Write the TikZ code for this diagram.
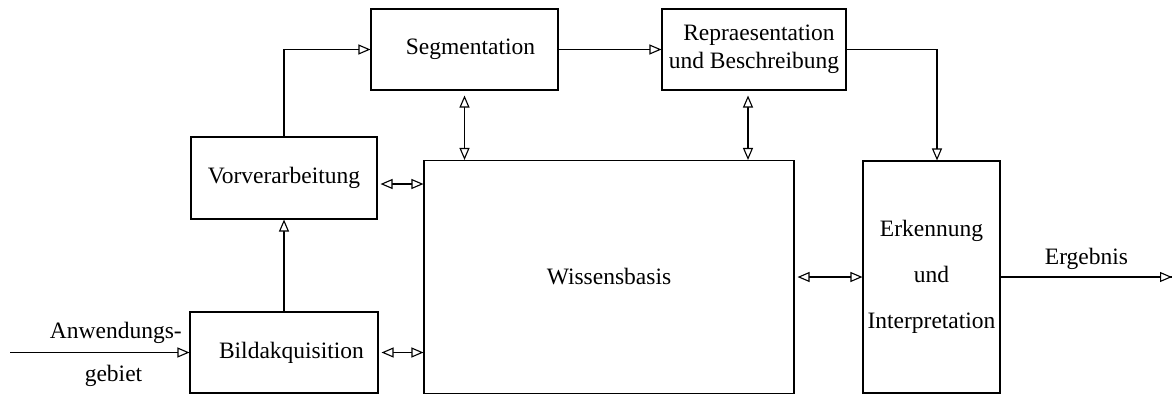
\documentclass[tikz,border=0pt]{standalone}
\usepackage{fontspec}
\setmainfont{Liberation Serif}
\usetikzlibrary{arrows.meta}
\begin{document}
\begin{tikzpicture}[x=1pt,y=-1pt,
  box/.style={draw, line width=1.1pt, rectangle, inner sep=0pt, font=\fontsize{23.5}{28}\selectfont, align=center},
  lbl/.style={inner sep=0pt, font=\fontsize{23.5}{28}\selectfont},
  arr/.style={line width=1.1pt, -{Triangle[open, length=12pt, width=10pt, fill=white]}},
  darr/.style={line width=1.1pt, {Triangle[open, length=12pt, width=10pt, fill=white]}-{Triangle[open, length=12pt, width=10pt, fill=white]}}]
\useasboundingbox (0,0) rectangle (1173,394);
\node[box, minimum width=187pt, minimum height=81pt] (seg) at (464.5,49.5) {\hspace*{12pt}Segmentation};
\node[box, minimum width=184pt, minimum height=81pt] (rep) at (754,49.5) {\hspace*{10pt}Repraesentation\\und Beschreibung};
\node[box, minimum width=186pt, minimum height=82pt] (vor) at (284,178) {Vorverarbeitung};
\node[box, minimum width=370pt, minimum height=233pt] (wis) at (609,277) {Wissensbasis};
\node[box, minimum width=137pt, minimum height=232pt, font=\fontsize{23.5}{46}\selectfont] (erk) at (931.5,277) {Erkennung\\und\\Interpretation};
\node[box, minimum width=188pt, minimum height=81pt] (bild) at (284,352.5) {\hspace*{15pt}Bildakquisition};
\coordinate (in) at (10,352.5);
\coordinate (out) at (1172,277);
\draw[arr] (vor.north) |- (seg.west);
\draw[arr] (seg.east) -- (rep.west);
\draw[arr] (rep.east) -| ([xshift=5.5pt]erk.north);
\draw[darr] ([yshift=-5pt]seg.south) -- (seg.south |- wis.north);
\draw[darr] ([xshift=-6pt,yshift=-5pt]rep.south) -- ([xshift=-6pt]rep.south |- wis.north);
\draw[darr] ([yshift=-6pt,xshift=3pt]vor.east) -- ([yshift=-6pt]vor.east -| wis.west);
\draw[darr] ([xshift=3pt]bild.east) -- (bild.east -| wis.west);
\draw[darr] ([xshift=3pt]wis.east) -- (erk.west);
\draw[arr] (bild.north) -- (vor.south);
\draw[arr] (in) -- (bild.west);
\draw[line width=1.1pt] (erk.east) -- (out);
\draw[arr] ([xshift=-1pt]out) -- (out);
\node[lbl, anchor=east] (anw) at (182,333) {Anwendungs-};
\node[lbl] (geb) at (113.5,376) {gebiet};
\node[lbl] (erg) at (1086.5,259) {Ergebnis};
\end{tikzpicture}
\end{document}
